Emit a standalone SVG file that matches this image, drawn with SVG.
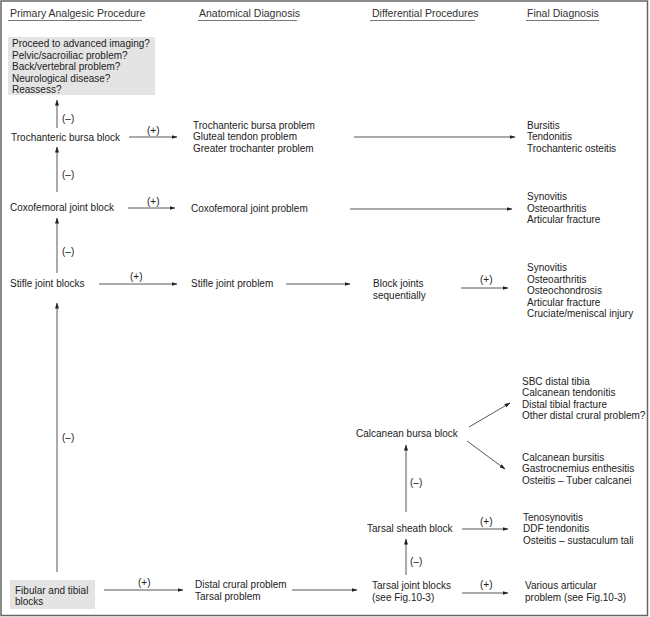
<svg xmlns="http://www.w3.org/2000/svg" width="650" height="617" viewBox="0 0 650 617">
<defs>
<style>
text{font-family:"Liberation Sans",Arial,sans-serif;font-size:10px;fill:#222}
.h{font-size:10.5px;fill:#333}
.ul{stroke:#777;stroke-width:1}
.c line{stroke:#444;stroke-width:0.9;fill:none}
.box{fill:#e4e4e4}
</style>
<marker id="ah" markerUnits="userSpaceOnUse" markerWidth="6" markerHeight="4" refX="5.5" refY="2" orient="auto">
<path d="M0,0 L6,2 L0,4 Z" fill="#222"/>
</marker>
</defs>
<rect x="0" y="0" width="650" height="617" fill="#fff"/>
<rect x="1" y="1" width="646.5" height="614.5" fill="none" stroke="#666" stroke-width="1.5"/>

<g id="headers">
<text class="h" x="10" y="17">Primary Analgesic Procedure</text>
<line class="ul" x1="8" y1="20.5" x2="142" y2="20.5"/>
<text class="h" x="199" y="17">Anatomical Diagnosis</text>
<line class="ul" x1="198" y1="20.5" x2="297" y2="20.5"/>
<text class="h" x="372" y="17">Differential Procedures</text>
<line class="ul" x1="370" y1="20.5" x2="475" y2="20.5"/>
<text class="h" x="527" y="17">Final Diagnosis</text>
<line class="ul" x1="526" y1="20.5" x2="599" y2="20.5"/>
</g>

<g id="reassess">
<rect class="box" x="8" y="37" width="147" height="58"/>
<text x="12" y="47">Proceed to advanced imaging?</text>
<text x="12" y="58.5">Pelvic/sacroiliac problem?</text>
<text x="12" y="70">Back/vertebral problem?</text>
<text x="12" y="81.5">Neurological disease?</text>
<text x="12" y="93">Reassess?</text>
</g>

<g id="troch-block"><text x="11" y="140.5">Trochanteric bursa block</text></g>
<g id="troch-problem">
<text x="193" y="128.5">Trochanteric bursa problem</text>
<text x="193" y="140">Gluteal tendon problem</text>
<text x="193" y="151.5">Greater trochanter problem</text>
</g>
<g id="troch-final">
<text x="527" y="128.5">Bursitis</text>
<text x="527" y="140">Tendonitis</text>
<text x="527" y="151.5">Trochanteric osteitis</text>
</g>

<g id="coxo-block"><text x="10" y="211">Coxofemoral joint block</text></g>
<g id="coxo-problem"><text x="191" y="212">Coxofemoral joint problem</text></g>
<g id="coxo-final">
<text x="527" y="200">Synovitis</text>
<text x="527" y="211.5">Osteoarthritis</text>
<text x="527" y="223">Articular fracture</text>
</g>

<g id="stifle-block"><text x="10" y="287">Stifle joint blocks</text></g>
<g id="stifle-problem"><text x="191" y="287">Stifle joint problem</text></g>
<g id="block-seq">
<text x="373" y="287">Block joints</text>
<text x="373" y="299">sequentially</text>
</g>
<g id="stifle-final">
<text x="527" y="271">Synovitis</text>
<text x="527" y="282.5">Osteoarthritis</text>
<text x="527" y="294">Osteochondrosis</text>
<text x="527" y="305.5">Articular fracture</text>
<text x="527" y="317">Cruciate/meniscal injury</text>
</g>

<g id="calc-block"><text x="356" y="437">Calcanean bursa block</text></g>
<g id="calc-final-1">
<text x="522" y="384.5">SBC distal tibia</text>
<text x="522" y="396">Calcanean tendonitis</text>
<text x="522" y="407.5">Distal tibial fracture</text>
<text x="522" y="419">Other distal crural problem?</text>
</g>
<g id="calc-final-2">
<text x="522" y="460.5">Calcanean bursitis</text>
<text x="522" y="472">Gastrocnemius enthesitis</text>
<text x="522" y="483.5">Osteitis – Tuber calcanei</text>
</g>

<g id="sheath-block"><text x="367" y="531.5">Tarsal sheath block</text></g>
<g id="sheath-final">
<text x="523" y="520.5">Tenosynovitis</text>
<text x="523" y="532">DDF tendonitis</text>
<text x="523" y="543.5">Osteitis – sustaculum tali</text>
</g>

<g id="fib-block">
<rect class="box" x="10" y="580" width="85" height="29"/>
<text x="15" y="593.5">Fibular and tibial</text>
<text x="15" y="605">blocks</text>
</g>
<g id="distal-problem">
<text x="195" y="588">Distal crural problem</text>
<text x="195" y="599.5">Tarsal problem</text>
</g>
<g id="tarsal-block">
<text x="372" y="589">Tarsal joint blocks</text>
<text x="372" y="600.5">(see Fig.10-3)</text>
</g>
<g id="tarsal-final">
<text x="525" y="589">Various articular</text>
<text x="525" y="600.5">problem (see Fig.10-3)</text>
</g>

<g id="connectors" class="c">
<line x1="57" y1="128" x2="57" y2="100" marker-end="url(#ah)"/>
<text x="62" y="121.5">(–)</text>
<line x1="129" y1="137" x2="177" y2="137" marker-end="url(#ah)"/>
<text x="147" y="134">(+)</text>
<line x1="354" y1="137" x2="515" y2="137" marker-end="url(#ah)"/>

<line x1="57" y1="192" x2="57" y2="147" marker-end="url(#ah)"/>
<text x="62" y="178">(–)</text>
<line x1="128" y1="208" x2="175" y2="208" marker-end="url(#ah)"/>
<text x="147" y="205">(+)</text>
<line x1="350" y1="209" x2="512" y2="209" marker-end="url(#ah)"/>

<line x1="57" y1="273" x2="57" y2="218" marker-end="url(#ah)"/>
<text x="62" y="255">(–)</text>
<line x1="99" y1="284" x2="177" y2="284" marker-end="url(#ah)"/>
<text x="130" y="280">(+)</text>
<line x1="286" y1="284" x2="350" y2="284" marker-end="url(#ah)"/>
<line x1="461" y1="288" x2="508" y2="288" marker-end="url(#ah)"/>
<text x="480" y="283">(+)</text>

<line x1="57" y1="572" x2="57" y2="303" marker-end="url(#ah)"/>
<text x="62" y="441">(–)</text>
<line x1="104" y1="590" x2="183" y2="590" marker-end="url(#ah)"/>
<text x="138" y="586">(+)</text>
<line x1="292" y1="590" x2="357" y2="590" marker-end="url(#ah)"/>
<line x1="462" y1="593" x2="508" y2="593" marker-end="url(#ah)"/>
<text x="480" y="588">(+)</text>

<line x1="406" y1="575" x2="406" y2="539" marker-end="url(#ah)"/>
<text x="410" y="565">(–)</text>
<line x1="462" y1="529" x2="508" y2="529" marker-end="url(#ah)"/>
<text x="480" y="525">(+)</text>

<line x1="406" y1="512" x2="406" y2="445" marker-end="url(#ah)"/>
<text x="410" y="486">(–)</text>
<line x1="469" y1="427" x2="510" y2="403" marker-end="url(#ah)"/>
<line x1="467" y1="441" x2="505" y2="469" marker-end="url(#ah)"/>
</g>
</svg>
